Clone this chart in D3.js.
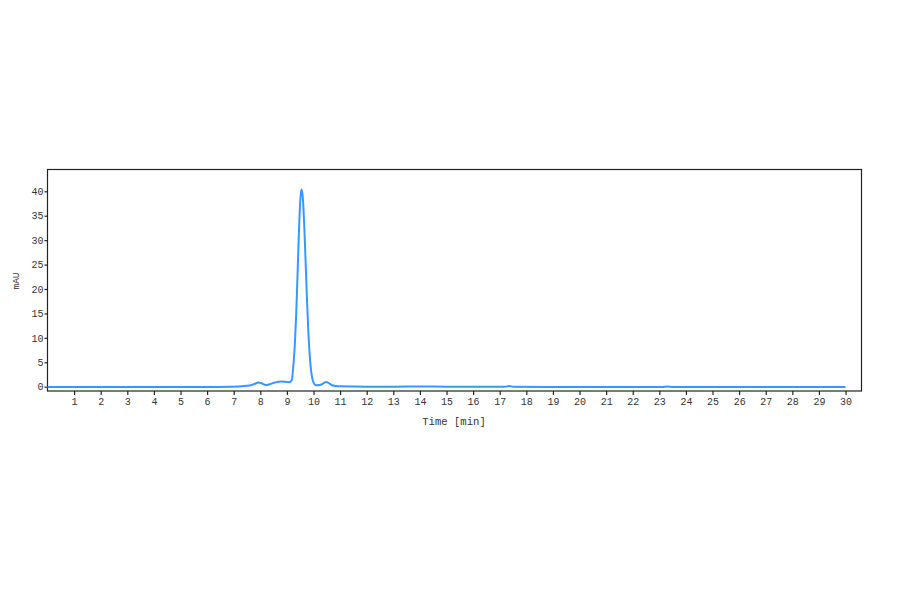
<!DOCTYPE html>
<html>
<head>
<meta charset="utf-8">
<script src="https://d3js.org/d3.v7.min.js"></script>
<style>
  html, body { margin: 0; padding: 0; background: #fff; }
  svg { display: block; }
</style>
</head>
<body>
<svg id="chart" width="900" height="594"></svg>
<script>
// Retention time (min) and absorbance (mAU)
const times = [0, 3, 6, 6.8, 7.3, 7.6, 7.8, 7.92, 8.05, 8.2, 8.35, 8.55, 8.75, 8.95, 9.1, 9.18,
  9.25, 9.30, 9.35, 9.40, 9.45, 9.50, 9.55, 9.60, 9.65, 9.70, 9.75, 9.80, 9.85, 9.90, 9.95, 10.0,
  10.05, 10.15, 10.3, 10.42, 10.48, 10.56, 10.7, 10.85, 11.0, 12, 13, 14, 15, 16, 17.2, 17.35, 17.5,
  20, 23.1, 23.3, 23.5, 26, 30];
const mAU = [-0.05, -0.05, -0.05, 0.0, 0.1, 0.25, 0.6, 0.85, 0.7, 0.35, 0.5, 0.85, 1.05, 1.0, 0.9, 1.3,
  4.8, 8.8, 15.0, 23.0, 31.4, 37.9, 40.4, 38.5, 33.2, 26.0, 18.5, 11.9, 7.0, 3.7, 1.8, 0.9,
  0.45, 0.3, 0.45, 0.85, 0.95, 0.8, 0.3, 0.15, 0.1, 0.0, 0.0, 0.05, 0.0, -0.02, -0.02, 0.15, -0.02,
  -0.05, -0.05, 0.05, -0.05, -0.05, -0.05];
const xTicks = d3.range(1, 31);
const yTicks = [0, 5, 10, 15, 20, 25, 30, 35, 40];
const xLabel = "Time [min]";
const yLabel = "mAU";

const svg = d3.select("#chart");
const mLeft = 47.5, mRight = 861.5, mTop = 169.5, mBottom = 391;

const x = d3.scaleLinear().domain([0, 30.6]).range([mLeft, mRight]);
const y = d3.scaleLinear().domain([-0.88, 44.46]).range([mBottom, mTop]);

const font = "'Liberation Mono', 'DejaVu Sans Mono', monospace";

// Frame
svg.append("rect")
  .attr("x", mLeft).attr("y", mTop)
  .attr("width", mRight - mLeft).attr("height", mBottom - mTop)
  .attr("fill", "none").attr("stroke", "#222").attr("stroke-width", 1.2);

// X axis
const xAxis = d3.axisBottom(x).tickValues(xTicks).tickSize(4).tickPadding(3).tickFormat(d3.format("d"));
const gx = svg.append("g").attr("transform", `translate(0,${mBottom})`).call(xAxis);
gx.select(".domain").remove();
gx.selectAll(".tick line").attr("stroke", "#222").attr("stroke-width", 1.2);
gx.selectAll(".tick text").attr("font-family", font).attr("font-size", 10).attr("fill", "#333");

// Y axis
const yAxis = d3.axisLeft(y).tickValues(yTicks).tickSize(3).tickPadding(1).tickFormat(d3.format("d"));
const gy = svg.append("g").attr("transform", `translate(${mLeft},0)`).call(yAxis);
gy.select(".domain").remove();
gy.selectAll(".tick line").attr("stroke", "#222").attr("stroke-width", 1.2);
gy.selectAll(".tick text").attr("font-family", font).attr("font-size", 10).attr("fill", "#333");

// Axis labels
svg.append("text")
  .attr("x", 454).attr("y", 424.5)
  .attr("text-anchor", "middle")
  .attr("font-family", font).attr("font-size", 10.6).attr("fill", "#333")
  .text(xLabel);
svg.append("text")
  .attr("transform", "translate(19,281) rotate(-90)")
  .attr("text-anchor", "middle")
  .attr("font-family", font).attr("font-size", 9.5).attr("fill", "#333")
  .text(yLabel);

// Trace
const data = times.map((t, i) => ({ t, v: mAU[i] }));
const line = d3.line().x(d => x(d.t)).y(d => y(d.v)).curve(d3.curveMonotoneX);
svg.append("path")
  .datum(data)
  .attr("d", line)
  .attr("fill", "none")
  .attr("stroke", "#3399ff")
  .attr("stroke-width", 2)
  .attr("stroke-linejoin", "round");
</script>
</body>
</html>
